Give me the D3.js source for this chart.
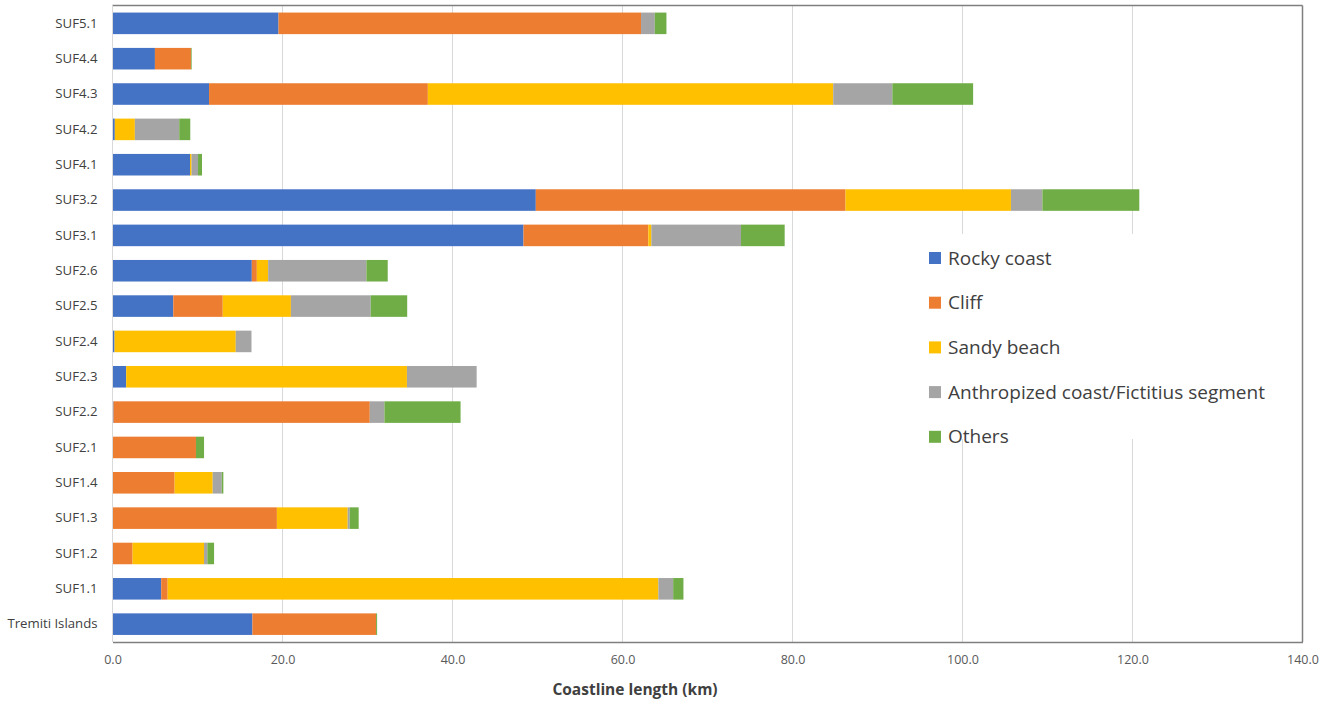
<!DOCTYPE html>
<html>
<head>
<meta charset="utf-8">
<script src="https://cdn.jsdelivr.net/npm/d3@7"></script>
<style>
  body { margin: 0; background: #fff; }
  svg { display: block; font-family: "Open Sans", sans-serif; }
</style>
</head>
<body>
<div id="chart"></div>
<script>
// Categories, top to bottom as in the chart
const categories = ["SUF5.1", "SUF4.4", "SUF4.3", "SUF4.2", "SUF4.1", "SUF3.2", "SUF3.1",
    "SUF2.6", "SUF2.5", "SUF2.4", "SUF2.3", "SUF2.2", "SUF2.1", "SUF1.4", "SUF1.3",
    "SUF1.2", "SUF1.1", "Tremiti Islands"];

// Coastline length (km) per category, one array per series
const rocky  = [19.53, 4.99, 11.36, 0.27, 9.12, 49.80, 48.35, 16.39, 7.15, 0.24, 1.61, 0.12, 0, 0, 0, 0, 5.73, 16.46];
const cliff  = [42.65, 4.24, 25.74, 0, 0, 36.44, 14.69, 0.59, 5.82, 0, 0, 30.15, 9.82, 7.31, 19.34, 2.36, 0.76, 14.55];
const sandy  = [0, 0, 47.69, 2.36, 0.18, 19.46, 0.36, 1.33, 8.02, 14.26, 33.03, 0, 0, 4.48, 8.33, 8.41, 57.73, 0];
const anthro = [1.62, 0, 6.96, 5.22, 0.76, 3.70, 10.54, 11.56, 9.39, 1.85, 8.20, 1.72, 0, 1.06, 0.23, 0.39, 1.74, 0];
const others = [1.37, 0.08, 9.50, 1.30, 0.47, 11.40, 5.14, 2.51, 4.29, 0, 0, 8.96, 0.95, 0.19, 1.06, 0.79, 1.21, 0.12];

const seriesNames = ["Rocky coast", "Cliff", "Sandy beach", "Anthropized coast/Fictitius segment", "Others"];
const xTicks = [0, 20, 40, 60, 80, 100, 120, 140];

const colors = ["#4472C4", "#ED7D31", "#FFC000", "#A5A5A5", "#70AD47"];
const seriesValues = [rocky, cliff, sandy, anthro, others];

// table for d3.stack
const rows = categories.map((c, i) => {
    const r = { cat: c };
    seriesNames.forEach((s, j) => r[s] = seriesValues[j][i]);
    return r;
});

const W = 1325, H = 704;
const plot = { left: 112.5, right: 1302.5, top: 5.5, bottom: 642 };

const svg = d3.select("#chart").append("svg")
    .attr("width", W).attr("height", H);

const x = d3.scaleLinear().domain([0, 140]).range([plot.left, plot.right]);
const y = d3.scaleBand().domain(categories).range([plot.top, plot.bottom])
    .paddingInner(0.39).paddingOuter(0.2);
const color = d3.scaleOrdinal().domain(seriesNames).range(colors);

// grid lines
svg.append("g")
    .selectAll("line")
    .data(xTicks.slice(1, -1))
    .join("line")
    .attr("x1", d => x(d)).attr("x2", d => x(d))
    .attr("y1", plot.top).attr("y2", plot.bottom)
    .attr("stroke", "#d9d9d9").attr("stroke-width", 1);

// bars
const stacked = d3.stack().keys(seriesNames)(rows);
svg.append("g")
    .selectAll("g")
    .data(stacked)
    .join("g")
    .attr("fill", d => color(d.key))
    .selectAll("rect")
    .data(d => d)
    .join("rect")
    .attr("x", d => x(d[0]))
    .attr("y", d => y(d.data.cat))
    .attr("width", d => x(d[1]) - x(d[0]))
    .attr("height", y.bandwidth());

// plot border (top, right, bottom dark; left light)
svg.append("line").attr("x1", plot.left).attr("x2", plot.right).attr("y1", plot.top).attr("y2", plot.top)
    .attr("stroke", "#7f7f7f").attr("stroke-width", 1.5);
svg.append("line").attr("x1", plot.right).attr("x2", plot.right).attr("y1", plot.top).attr("y2", plot.bottom)
    .attr("stroke", "#7f7f7f").attr("stroke-width", 1.5);
svg.append("line").attr("x1", plot.left).attr("x2", plot.left).attr("y1", plot.top).attr("y2", plot.bottom)
    .attr("stroke", "#d9d9d9").attr("stroke-width", 1);

// x axis
const xAxis = svg.append("g")
    .attr("transform", `translate(0,${plot.bottom})`)
    .call(d3.axisBottom(x).tickValues(xTicks).tickFormat(d3.format(".1f")).tickSize(0).tickPadding(13));
xAxis.attr("font-family", null).attr("font-size", null);
xAxis.select(".domain").attr("stroke", "#7f7f7f").attr("stroke-width", 1.5);
xAxis.selectAll("text").attr("fill", "#595959").style("font-size", "12.5px");

// y axis labels
const yAxis = svg.append("g")
    .attr("transform", `translate(${plot.left},0)`)
    .call(d3.axisLeft(y).tickSize(0).tickPadding(15));
yAxis.attr("font-family", null).attr("font-size", null);
yAxis.select(".domain").remove();
yAxis.selectAll("text").attr("fill", "#404040").style("font-size", "13.2px");

// axis title
svg.append("text")
    .attr("x", 635).attr("y", 695)
    .attr("text-anchor", "middle")
    .attr("fill", "#404040")
    .style("font-size", "15.5px").style("font-weight", "bold")
    .text("Coastline length (km)");

// legend
const legend = svg.append("g").attr("transform", "translate(929,258)");
legend.append("rect").attr("x", -8).attr("y", -24).attr("width", 360).attr("height", 205).attr("fill", "#fff");
seriesNames.forEach((s, i) => {
    const g = legend.append("g").attr("transform", `translate(0,${i * 44.7})`);
    g.append("rect").attr("x", 0).attr("y", -6).attr("width", 12).attr("height", 12).attr("fill", colors[i]);
    g.append("text").attr("x", 19).attr("y", 0).attr("dy", "0.35em")
        .attr("fill", "#404040").style("font-size", "19px").text(s);
});
</script>
</body>
</html>
